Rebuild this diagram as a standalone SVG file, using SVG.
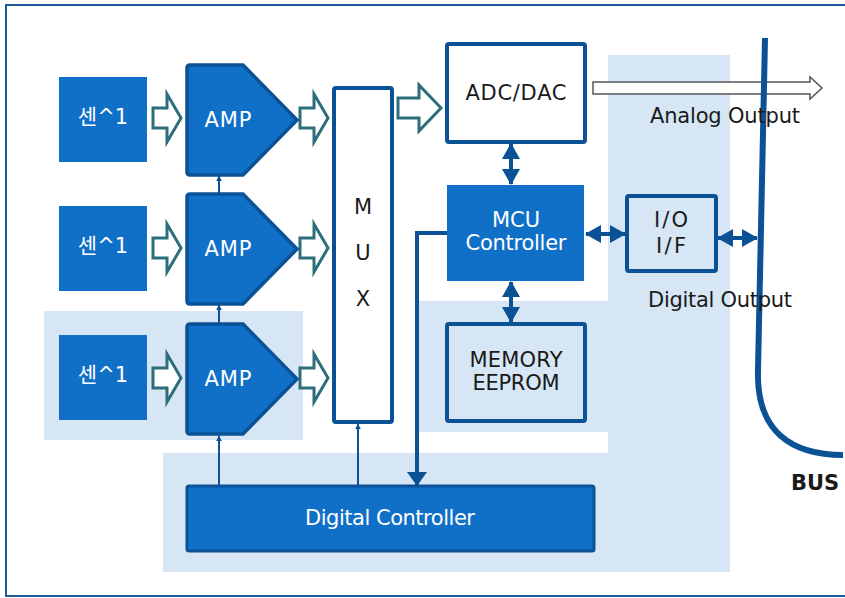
<svg xmlns="http://www.w3.org/2000/svg" width="845" height="598" viewBox="0 0 845 598">
<style>
.bg{fill:#d6e6f5}
.blue{fill:#1070c8}
.box{stroke:#0b5196;stroke-width:4}
.wt{font-family:"DejaVu Sans","Noto Sans CJK KR",sans-serif;fill:#ffffff;font-size:21px;text-anchor:middle}
.dt{font-family:"DejaVu Sans","Noto Sans CJK KR",sans-serif;fill:#1a1a1a;font-size:21px;text-anchor:middle}
.hollow{fill:#ffffff;stroke:#2c6e7c;stroke-width:3;stroke-linejoin:miter}
.thin{stroke:#0b5196;stroke-width:2;fill:none}
.dbl{stroke:#0b5196;stroke-width:4;fill:none}
</style>
<defs>
<marker id="tri" viewBox="0 0 10 10" refX="9" refY="5" markerWidth="6" markerHeight="6" orient="auto-start-reverse" markerUnits="userSpaceOnUse">
<path d="M0,0 L10,5 L0,10 Z" fill="#0b5196"/>
</marker>
<marker id="big" viewBox="0 0 14 20" refX="13" refY="10" markerWidth="14" markerHeight="20" orient="auto-start-reverse" markerUnits="userSpaceOnUse">
<path d="M0,0 L14,10 L0,20 Z" fill="#0b5196"/>
</marker>
<marker id="big2" viewBox="0 0 16 18" refX="15" refY="9" markerWidth="16" markerHeight="18" orient="auto-start-reverse" markerUnits="userSpaceOnUse">
<path d="M0,0 L16,9 L0,18 Z" fill="#0b5196"/>
</marker>
<path id="harrow" d="M0,-10 H14 V-24 L28,0 L14,24 V10 H0 Z"/>
<path id="amp" d="M190,0 L243,0 L297,55 L243,110 L190,110 Q187,110 187,107 L187,3 Q187,0 190,0 Z"/>
</defs>

<rect width="845" height="598" fill="#ffffff"/>
<rect x="6" y="5" width="860" height="591" fill="none" stroke="#1a5a9a" stroke-width="2"/>

<g id="backgrounds">
<rect class="bg" x="44" y="311" width="259" height="129"/>
<rect class="bg" x="418" y="301" width="190" height="131"/>
<rect class="bg" x="608" y="55" width="122" height="517"/>
<rect class="bg" x="163" y="453" width="567" height="119"/>
</g>

<g id="connectors">
<use href="#harrow" class="hollow" x="153" y="118"/>
<use href="#harrow" class="hollow" x="153" y="248"/>
<use href="#harrow" class="hollow" x="153" y="378"/>
<use href="#harrow" class="hollow" x="300" y="118"/>
<use href="#harrow" class="hollow" x="300" y="248"/>
<use href="#harrow" class="hollow" x="300" y="378"/>
<path class="hollow" d="M398,98 H419 V85 L441,108 L419,131 V118 H398 Z"/>
<path d="M593,82 H810 V77 L822,88 L810,99 V94 H593 Z" fill="#ffffff" stroke="#555555" stroke-width="1.5"/>
<line class="thin" x1="219" y1="194" x2="219" y2="176" marker-end="url(#tri)"/>
<line class="thin" x1="219" y1="324" x2="219" y2="305" marker-end="url(#tri)"/>
<line class="thin" x1="219" y1="486" x2="219" y2="436" marker-end="url(#tri)"/>
<line class="thin" x1="358" y1="486" x2="358" y2="424" marker-end="url(#tri)"/>
<path d="M447,233 H417 V485" fill="none" stroke="#0b5196" stroke-width="4" marker-end="url(#big)"/>
<line class="dbl" x1="511" y1="144" x2="511" y2="184" marker-start="url(#big2)" marker-end="url(#big2)"/>
<line class="dbl" x1="511" y1="282" x2="511" y2="322" marker-start="url(#big2)" marker-end="url(#big2)"/>
<line class="dbl" x1="586" y1="234" x2="625" y2="234" marker-start="url(#big2)" marker-end="url(#big2)"/>
<line class="dbl" x1="718" y1="238" x2="757" y2="238" marker-start="url(#big2)" marker-end="url(#big2)"/>
<path d="M765,38 L758,370 C756,432 792,455 843,455" fill="none" stroke="#0b5196" stroke-width="6"/>
</g>

<g id="sensor1"><rect class="blue" x="59" y="77" width="88" height="85"/><text class="wt" x="103" y="124" font-size="15">센^1</text></g>
<g id="sensor2"><rect class="blue" x="59" y="206" width="88" height="85"/><text class="wt" x="103" y="253" font-size="15">센^1</text></g>
<g id="sensor3"><rect class="blue" x="59" y="335" width="88" height="85"/><text class="wt" x="103" y="382" font-size="15">센^1</text></g>

<g id="amp1"><use href="#amp" y="65" class="blue" stroke="#0b5196" stroke-width="3.5"/><text class="wt" x="228" y="127" font-size="22" textLength="47">AMP</text></g>
<g id="amp2"><use href="#amp" y="194" class="blue" stroke="#0b5196" stroke-width="3.5"/><text class="wt" x="228" y="256" font-size="22" textLength="47">AMP</text></g>
<g id="amp3"><use href="#amp" y="324" class="blue" stroke="#0b5196" stroke-width="3.5"/><text class="wt" x="228" y="386" font-size="22" textLength="47">AMP</text></g>

<g id="mux"><rect x="334" y="88" width="58" height="334" fill="#ffffff" class="box" rx="2"/>
<text class="dt" x="363" y="214" font-size="19">M</text>
<text class="dt" x="363" y="260" font-size="19">U</text>
<text class="dt" x="363" y="306" font-size="19">X</text></g>

<g id="adcdac"><rect x="447" y="44" width="138" height="98" fill="#ffffff" class="box" rx="2"/><text class="dt" x="516" y="100" textLength="101">ADC/DAC</text></g>
<g id="analog-output"><text class="dt" x="725" y="123" font-size="21" textLength="150">Analog Output</text></g>

<g id="mcu"><rect class="blue" x="447" y="185" width="137" height="96"/><text class="wt" x="516" y="227" textLength="48">MCU</text><text class="wt" x="516" y="250" textLength="101">Controller</text></g>

<g id="io"><rect x="627" y="196" width="89" height="75" fill="none" class="box" rx="2"/><text class="dt" x="671" y="227" textLength="34">I/O</text><text class="dt" x="671" y="253" textLength="30">I/F</text></g>
<g id="digital-output"><text class="dt" x="720" y="307" font-size="20" textLength="144">Digital Output</text></g>

<g id="memory"><rect x="447" y="324" width="138" height="97" fill="none" class="box" rx="2"/><text class="dt" x="516" y="367" textLength="93">MEMORY</text><text class="dt" x="516" y="390" textLength="87">EEPROM</text></g>

<g id="digital-controller"><rect class="blue" x="187" y="486" width="407" height="65" stroke="#0b5196" stroke-width="3" rx="2"/><text class="wt" x="390" y="525" textLength="170">Digital Controller</text></g>

<g id="bus"><text class="dt" x="815" y="490" font-size="16" font-weight="bold">BUS</text></g>
</svg>
